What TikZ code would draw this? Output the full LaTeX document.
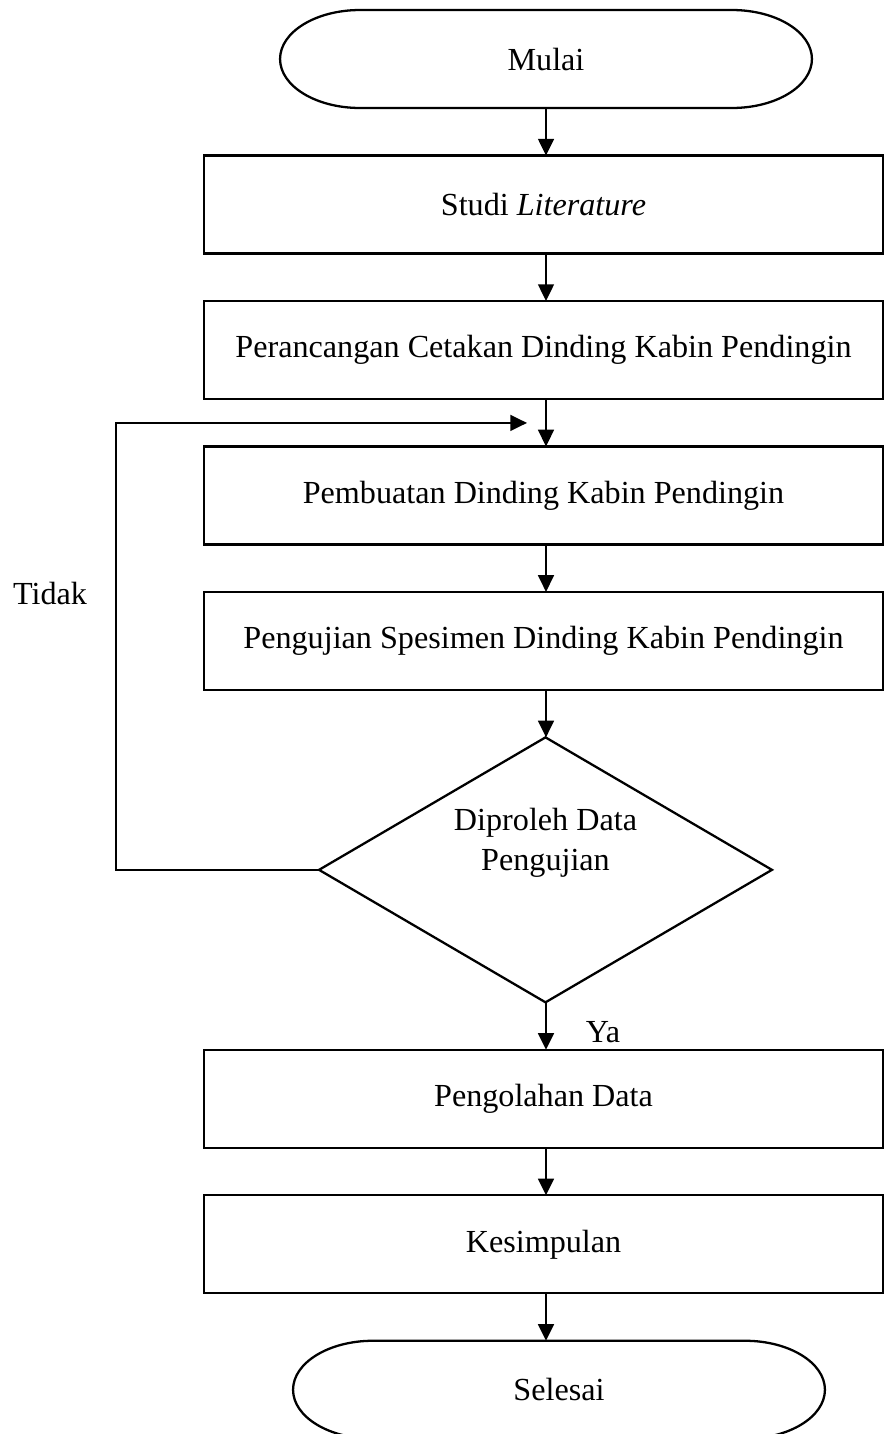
\documentclass[tikz,border=0pt]{standalone}
\usepackage{fontspec}
\setmainfont{Liberation Serif}
\usetikzlibrary{arrows.meta,positioning,shapes.geometric}
\tikzset{
    %Define standard arrow tip
    >={Triangle[length=9.5pt,width=9pt]},
    %Define style for boxes
    kotak/.style={
           rectangle,
           draw=black, line width=1.3pt,
           minimum width=13.58cm,
           minimum height=1.96cm,
           inner sep=0pt, outer sep=0pt,
           text centered},
    terminal/.style={
           rectangle,
           minimum width=10.64cm,
           minimum height=1.96cm,
           inner sep=0pt, outer sep=0pt},
    keputusan/.style={
           diamond, aspect=1.71,
           draw=black, line width=1.3pt,
           minimum width=9.06cm,
           minimum height=5.3cm,
           inner sep=0pt, outer sep=0pt,
           align=center,
           text height=0.4cm,
           text depth=0.38cm},
    % Define arrow style
    panah/.style={
           ->,
           line width=1.3pt}
}
% outline of start / end node
\newcommand{\garisujung}[1]{%
  \draw[line width=1.3pt] ([xshift=1.6cm]#1.north west) -- ([xshift=-1.6cm]#1.north east)
     arc[start angle=90,end angle=-90,x radius=1.6cm,y radius=0.98cm]
     -- ([xshift=1.6cm]#1.south west)
     arc[start angle=270,end angle=90,x radius=1.6cm,y radius=0.98cm] -- cycle;}

\begin{document}
\begin{tikzpicture}[x=0.02cm,y=-0.02cm,node distance=0.95cm,
    font=\fontsize{18.3pt}{22.7pt}\selectfont]
\useasboundingbox (0,0) rectangle (884,1434);
 %nodes
\node[terminal](1) at (546,59){Mulai};
\node[kotak, below=of 1, xshift=-0.05cm](2){Studi \textit{Literature}};
\node[kotak, below=of 2](3){Perancangan Cetakan Dinding Kabin Pendingin};
\node[kotak, below=of 3](4){Pembuatan Dinding Kabin Pendingin};
\node[kotak, below=of 4](5){Pengujian Spesimen Dinding Kabin Pendingin};
\node[keputusan, below=of 5, xshift=0.04cm](6){Diproleh Data\\Pengujian};
\node[kotak, below=of 6, xshift=-0.04cm](7){Pengolahan Data};
\node[kotak, below=of 7](8){Kesimpulan};
\node[terminal, below=of 8, xshift=0.31cm](9){Selesai};
\garisujung{1}
\garisujung{9}

\node(tidak) at (50,593){Tidak};
\node(ya) at (603,1032){Ya};
\coordinate(masuk) at ([xshift=-0.38cm,yshift=0.47cm]4.north -| 1);

 \path[panah]
    (1) edge (1 |- 2.north)
    (2.south -| 1) edge (1 |- 3.north)
    (3.south -| 1) edge (1 |- 4.north)
    (4.south -| 1) edge (1 |- 5.north)
    (5.south -| 1) edge (1 |- 6.north)
    (6.south -| 1) edge (1 |- 7.north)
    (7.south -| 1) edge (1 |- 8.north)
    (8.south -| 1) edge (1 |- 9.north);
 \draw[panah] (6.west) -- ++(-203,0) |- (masuk);

\end{tikzpicture}
\end{document}
